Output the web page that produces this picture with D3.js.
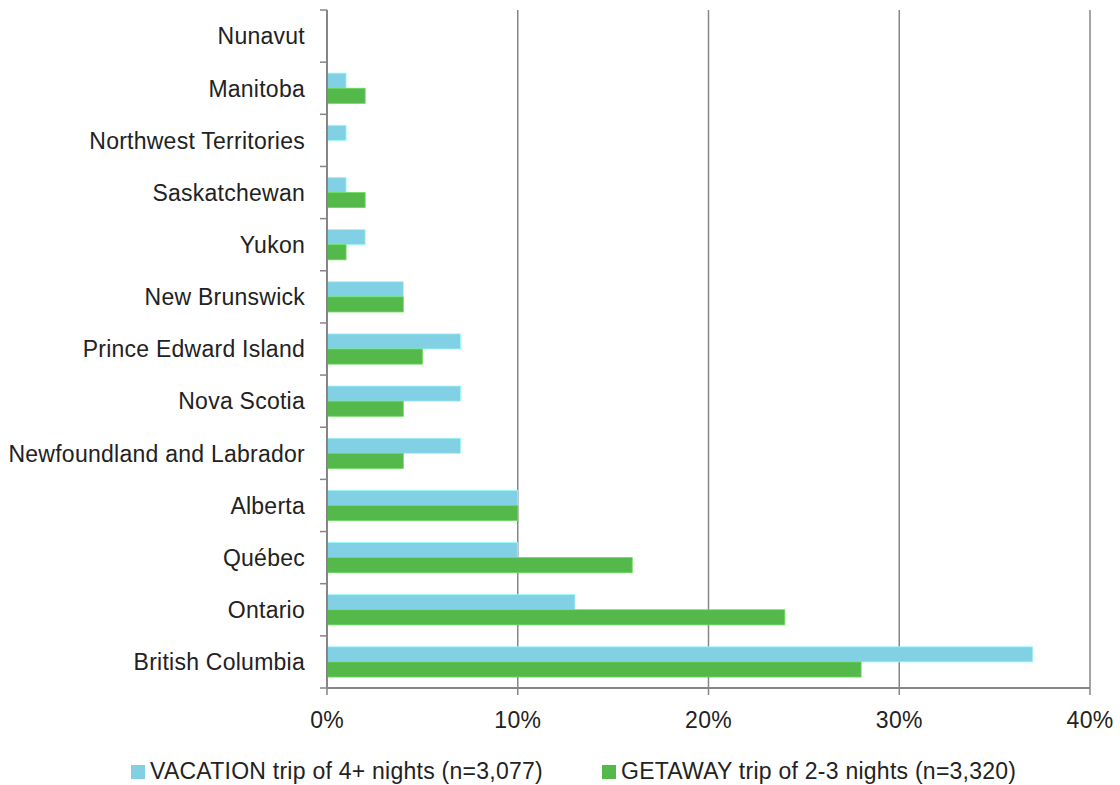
<!DOCTYPE html>
<html><head><meta charset="utf-8">
<script src="https://cdn.jsdelivr.net/npm/d3@7"></script>
<style>body{margin:0;background:#fff;} text{font-family:"Liberation Sans",Arial,sans-serif;letter-spacing:0.25px;}</style>
</head><body><svg id="c" width="1120" height="785"></svg>
<script>
const categories = ["Nunavut","Manitoba","Northwest Territories","Saskatchewan","Yukon","New Brunswick","Prince Edward Island","Nova Scotia","Newfoundland and Labrador","Alberta","Québec","Ontario","British Columbia"];
const vacation = [0,1,1,1,2,4,7,7,7,10,10,13,37];
const getaway = [0,2,0,2,1,4,5,4,4,10,16,24,28];
const seriesNames = ["VACATION trip of 4+ nights (n=3,077)","GETAWAY trip of 2-3 nights (n=3,320)"];
const xTicks = [0,10,20,30,40];
const colors = ["#82D0E3","#55B84A"];

const svg = d3.select("#c");
const m = {l:327, r:1090, t:10, b:688};
const FS = 23;
const x = d3.scaleLinear().domain([0,40]).range([m.l,m.r]);
const y = d3.scaleBand().domain(categories).range([m.t,m.b]).paddingInner(0.42).paddingOuter(0.21);
const sub = d3.scaleBand().domain([0,1]).range([0,y.bandwidth()]);

// gridlines
svg.append("g").selectAll("line").data(xTicks.slice(1)).join("line")
  .attr("x1",d=>x(d)).attr("x2",d=>x(d)).attr("y1",m.t).attr("y2",m.b)
  .attr("stroke","#868686").attr("stroke-width",1.5);

// bars
const series = [vacation, getaway];
series.forEach((vals,si)=>{
  svg.append("g").selectAll("rect").data(categories).join("rect")
    .attr("x",x(0)).attr("y",(d)=>y(d)+sub(si))
    .attr("width",(d,i)=>x(vals[i])-x(0)).attr("height",sub.bandwidth())
    .attr("fill",colors[si]).attr("stroke",(d,i)=>vals[i]>0?d3.color(colors[si]).brighter(0.5):"none").attr("stroke-width",0.8);
});

// y axis
const step = (m.b-m.t)/categories.length;
const yAxis = svg.append("g");
yAxis.append("line").attr("x1",m.l).attr("x2",m.l).attr("y1",m.t).attr("y2",m.b).attr("stroke","#868686").attr("stroke-width",2);
yAxis.selectAll(".tk").data(d3.range(categories.length+1)).join("line")
  .attr("x1",m.l-7).attr("x2",m.l).attr("y1",i=>m.t+i*step).attr("y2",i=>m.t+i*step)
  .attr("stroke","#868686").attr("stroke-width",1.5);
yAxis.selectAll("text").data(categories).join("text")
  .attr("x",305).attr("y",d=>y(d)+y.bandwidth()/2).attr("dy","0.36em")
  .attr("text-anchor","end").attr("font-size",FS).attr("fill","#222").text(d=>d);

// x axis
const xAxis = svg.append("g");
xAxis.append("line").attr("x1",m.l).attr("x2",m.r).attr("y1",m.b).attr("y2",m.b).attr("stroke","#868686").attr("stroke-width",2);
xAxis.selectAll(".tk").data(xTicks).join("line")
  .attr("x1",d=>x(d)).attr("x2",d=>x(d)).attr("y1",m.b).attr("y2",m.b+7)
  .attr("stroke","#868686").attr("stroke-width",1.5);
xAxis.selectAll("text").data(xTicks).join("text")
  .attr("x",d=>x(d)).attr("y",728).attr("text-anchor","middle").attr("font-size",FS).attr("fill","#222").text(d=>d+"%");

// legend
const lx = [131,602];
seriesNames.forEach((n,i)=>{
  svg.append("rect").attr("x",lx[i]).attr("y",765).attr("width",14).attr("height",14).attr("fill",colors[i]);
  svg.append("text").attr("x",lx[i]+19).attr("y",779).attr("font-size",FS).attr("fill","#222").text(n);
});
</script></body></html>
